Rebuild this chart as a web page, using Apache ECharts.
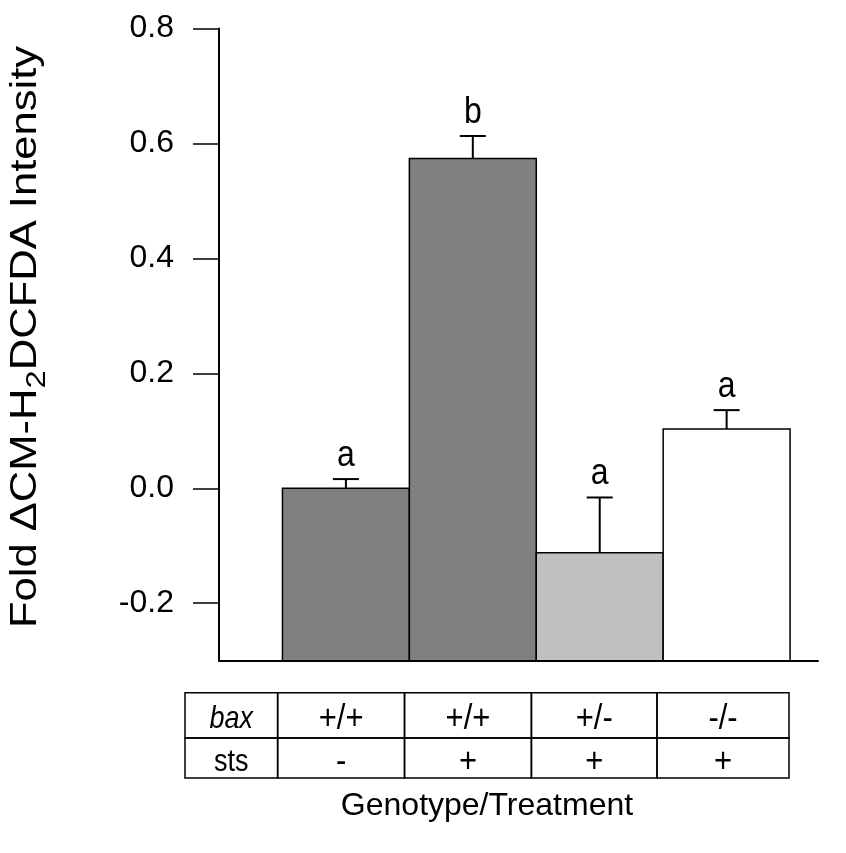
<!DOCTYPE html>
<html>
<head>
<meta charset="utf-8">
<script src="https://cdn.jsdelivr.net/npm/echarts@6/dist/echarts.min.js"></script>
<style>html,body{margin:0;padding:0;background:#fff;}#c{width:846px;height:853px;}</style>
</head>
<body>
<div id="c"></div>
<script>
// ---- data ----
const categories = ['bax+/+ sts-', 'bax+/+ sts+', 'bax+/- sts+', 'bax-/- sts+'];
const means = [0.0, 0.574, -0.112, 0.103];
const errors = [0.016, 0.039, 0.096, 0.033];
const letters = ['a', 'b', 'a', 'a'];
const rowHeaders = ['bax', 'sts'];
const baxRow = ['+/+', '+/+', '+/-', '-/-'];
const stsRow = ['-', '+', '+', '+'];
const yTicks = [-0.2, 0.0, 0.2, 0.4, 0.6, 0.8];
const yTitle = '{n|Fold \u0394CM-H}{s|2}{n|DCFDA Intensity}';
const xTitle = 'Genotype/Treatment';

// ---- styles / layout ----
const barColors = ['#808080', '#808080', '#c0c0c0', '#ffffff'];
const FONT = 'Liberation Sans, Arial, Helvetica, sans-serif';
const Y_MIN = -0.3, Y_MAX = 0.8;
const colEdges = [-0.77, -0.04, 0.96, 1.96, 2.95, 3.99];
const rowEdges = [0, 1.06, 2];
const TXT_STRETCH = 1.15;

const chart = echarts.init(document.getElementById('c'), null, {renderer: 'canvas'});

const barData = means.map((m, i) => [i, m, errors[i]]);
const tableData = [];
const tableRows = [[rowHeaders[0]].concat(baxRow), [rowHeaders[1]].concat(stsRow)];
for (let r = 0; r < 2; r++) for (let c = 0; c < 5; c++) tableData.push([c, r]);

const option = {
  backgroundColor: '#ffffff',
  animation: false,
  grid: [
    {left: 219, top: 28.5, width: 599, height: 632.2, containLabel: false},
    {left: 185, top: 692.7, width: 604, height: 85.3, containLabel: false}
  ],
  graphic: [
    {type: 'text', x: 30, y: 337, rotation: Math.PI / 2, scaleX: 1.21,
     style: {text: yTitle, align: 'center', verticalAlign: 'middle', fill: '#000',
             font: '36px ' + FONT,
             rich: {
               n: {fontSize: 36, fontFamily: FONT, fill: '#000', verticalAlign: 'top'},
               s: {fontSize: 27, fontFamily: FONT, fill: '#000', verticalAlign: 'bottom', lineHeight: 43}
             }}}
  ],
  xAxis: [
    {type: 'value', gridIndex: 0, min: -0.5, max: 4.22,
     axisLine: {show: true, onZero: false, lineStyle: {color: '#000', width: 2}},
     axisTick: {show: false}, axisLabel: {show: false}, splitLine: {show: false}},
    {type: 'value', gridIndex: 1, min: colEdges[0], max: colEdges[colEdges.length - 1],
     axisLine: {show: false}, axisTick: {show: false}, axisLabel: {show: false}, splitLine: {show: false},
     name: xTitle, nameLocation: 'middle', nameGap: 12,
     nameTextStyle: {fontSize: 32, color: '#000', fontFamily: FONT, verticalAlign: 'top'}}
  ],
  yAxis: [
    {type: 'value', gridIndex: 0, min: Y_MIN, max: Y_MAX,
     axisLine: {show: true, onZero: false, lineStyle: {color: '#000', width: 2}},
     axisTick: {show: true, customValues: yTicks, length: 26, lineStyle: {color: '#000', width: 1.5}},
     axisLabel: {show: true, customValues: yTicks, margin: 45, fontSize: 32, color: '#000', fontFamily: FONT,
                 formatter: v => (Math.abs(v) < 1e-9 ? 0 : v).toFixed(1)},
     splitLine: {show: false}},
    {type: 'value', gridIndex: 1, min: 0, max: 2, inverse: true, show: false}
  ],
  series: [
    {
      type: 'custom', xAxisIndex: 0, yAxisIndex: 0, data: barData, clip: false,
      renderItem: function (params, api) {
        const i = api.value(0), v = api.value(1), e = api.value(2);
        const tl = api.coord([i, v]);
        const br = api.coord([i + 1, Y_MIN]);
        const cx = api.coord([i + 0.5, v])[0];
        const top = api.coord([i + 0.5, v + e])[1];
        return {
          type: 'group',
          children: [
            {type: 'rect', shape: {x: tl[0], y: tl[1], width: br[0] - tl[0], height: br[1] - tl[1]},
             style: {fill: barColors[i], stroke: '#000', lineWidth: 1.5}},
            {type: 'line', shape: {x1: cx, y1: tl[1], x2: cx, y2: top}, style: {stroke: '#000', lineWidth: 2}},
            {type: 'line', shape: {x1: cx - 13, y1: top, x2: cx + 13, y2: top}, style: {stroke: '#000', lineWidth: 2}},
            {type: 'text', x: cx, y: top - 5, scaleY: TXT_STRETCH,
             style: {x: 0, y: 0, text: letters[i], align: 'center', verticalAlign: 'bottom',
              fontSize: 32, fontFamily: FONT, fill: '#000'}}
          ]
        };
      }
    },
    {
      type: 'custom', xAxisIndex: 1, yAxisIndex: 1, data: tableData, clip: false,
      renderItem: function (params, api) {
        const c = api.value(0), r = api.value(1);
        const p0 = api.coord([colEdges[c], rowEdges[r]]);
        const p1 = api.coord([colEdges[c + 1], rowEdges[r + 1]]);
        const txt = tableRows[r][c];
        const isHeader = c === 0;
        return {
          type: 'group',
          children: [
            {type: 'rect', shape: {x: p0[0], y: p0[1], width: p1[0] - p0[0], height: p1[1] - p0[1]},
             style: {fill: 'none', stroke: '#000', lineWidth: 1.5}},
            {type: 'text', x: (p0[0] + p1[0]) / 2, y: (p0[1] + p1[1]) / 2 + 4, scaleY: TXT_STRETCH,
             style: {x: 0, y: 0, text: txt,
              align: 'center', verticalAlign: 'middle',
              fontSize: isHeader ? 27 : 31, fontStyle: (isHeader && r === 0) ? 'italic' : 'normal',
              fontFamily: FONT, fill: '#000'}}
          ]
        };
      }
    }
  ]
};
chart.setOption(option);
</script>
</body>
</html>
